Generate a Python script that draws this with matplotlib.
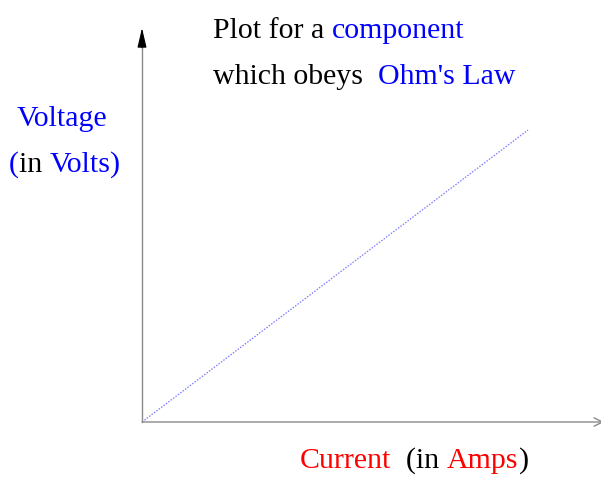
import matplotlib.pyplot as plt

# data for the straight Ohm's law line (current in A, voltage in V)
current = [0, 5]
voltage = [0, 3.8]

# text pieces: (string, colour)
title_line1 = [("Plot for a ", "black"), ("component", "blue")]
title_line2 = [("which obeys  ", "black"), ("Ohm's Law", "blue")]
ylab_line1 = [("Voltage", "blue")]
ylab_line2 = [("(", "blue"), ("in ", "black"), ("Volts)", "blue")]
xlab = [("Current", "red"), ("  (in ", "black"), ("Amps", "red"), (")", "black")]

W, H = 601, 478
plt.rcParams['font.family'] = 'Liberation Serif'
fig = plt.figure(figsize=(W / 100, H / 100), dpi=100)

# axes box in pixels: origin (142, 422), top 28, right edge just past the figure
x0, y0, x1, y1 = 142, 422, 604, 28
ax = fig.add_axes([x0 / W, 1 - y0 / H, (x1 - x0) / W, (y0 - y1) / H])
ax.set_xlim(0, current[1] * (x1 - x0) / 386)
ax.set_ylim(0, voltage[1] * (y0 - y1) / 292)
ax.axis('off')

ax.plot(current, voltage, color='#7b7bff', lw=0.9, ls=(0, (1.2, 1.2)))

# axes with arrows
ax.plot([0, 0], [0, 0.96], transform=ax.transAxes, color='#8a8a8a', lw=1, clip_on=False)
ax.annotate('', xy=(0, 1), xytext=(0, 0.95), xycoords='axes fraction',
            arrowprops=dict(arrowstyle='-|>,head_length=1.2,head_width=0.28',
                            color='black', lw=0.8, shrinkA=0, shrinkB=0))
ax.annotate('', xy=(1.0, 0), xytext=(0, 0), xycoords='axes fraction',
            arrowprops=dict(arrowstyle='->,head_length=0.6,head_width=0.3',
                            color='#8a8a8a', lw=1, shrinkA=0, shrinkB=0))

fs = 21.5
fig.canvas.draw()
renderer = fig.canvas.get_renderer()


def chain(pieces, x, y):
    # place coloured pieces one after another on the same baseline
    for s, c in pieces:
        t = fig.text(x / W, 1 - y / H, s, color=c, fontsize=fs,
                     ha='left', va='baseline')
        x = t.get_window_extent(renderer).x1


chain(title_line1, 213, 38)
chain(title_line2, 213, 84)
chain(ylab_line1, 17, 126)
chain(ylab_line2, 9, 172)
chain(xlab, 300, 468)

fig.savefig('out.png', dpi=100)
